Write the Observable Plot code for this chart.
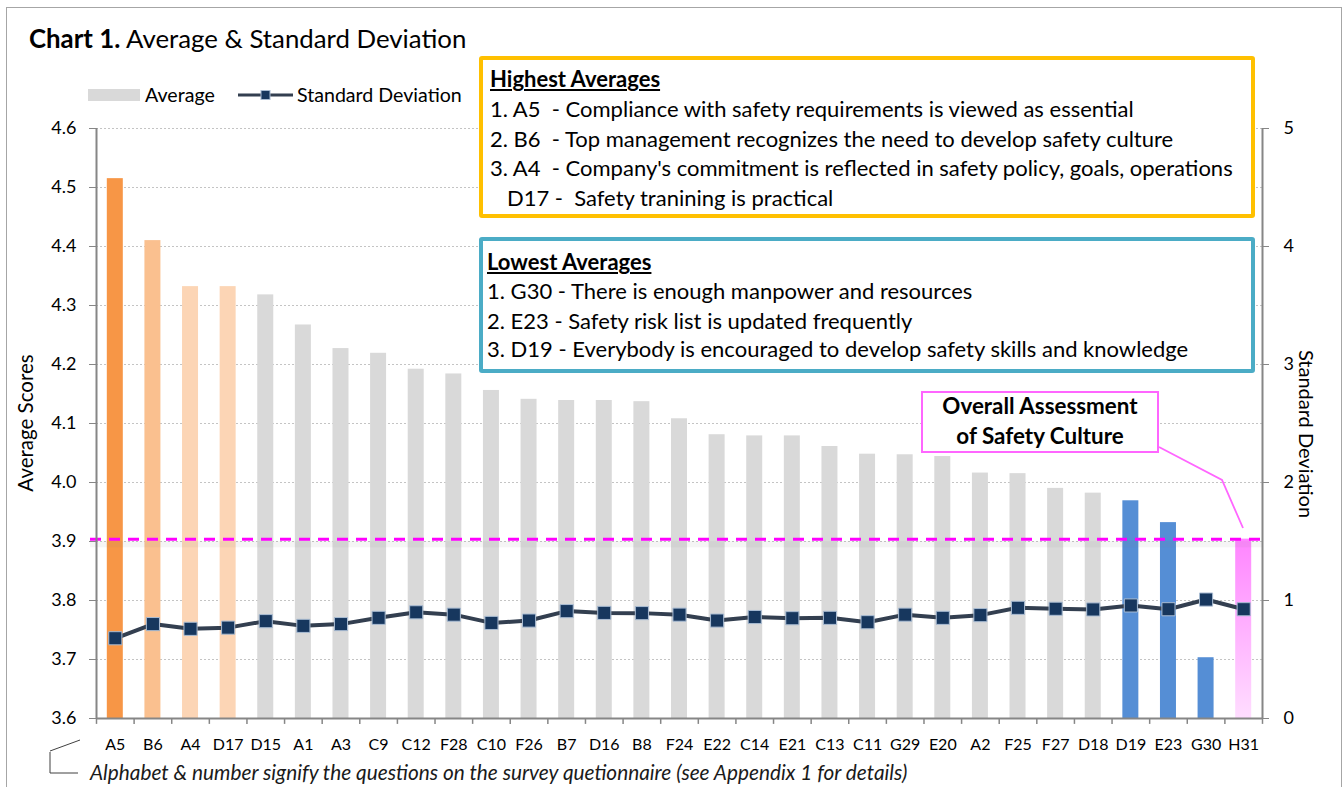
<!DOCTYPE html>
<html>
<head>
<meta charset="utf-8">
<script src="https://cdn.jsdelivr.net/npm/d3@7"></script>
<script src="https://cdn.jsdelivr.net/npm/@observablehq/plot@0.6"></script>
<style>
  html, body { margin: 0; padding: 0; background: #fff; }
  #wrap { position: relative; width: 1344px; height: 787px; overflow: hidden; font-family: Lato, "Open Sans", sans-serif; color: #000; }
  #wrap > svg { position: absolute; left: 0; top: 0; }
  .abs { position: absolute; line-height: 1; white-space: pre; }
  .box { position: absolute; box-sizing: border-box; background: #fff; }
</style>
</head>
<body>
<div id="wrap"></div>
<script>
// ---------------- data ----------------
const categories = ["A5","B6","A4","D17","D15","A1","A3","C9","C12","F28","C10","F26","B7","D16","B8","F24","E22","C14","E21","C13","C11","G29","E20","A2","F25","F27","D18","D19","E23","G30","H31"];
const averages = [4.515,4.410,4.332,4.332,4.318,4.267,4.227,4.219,4.192,4.184,4.156,4.141,4.139,4.139,4.137,4.108,4.081,4.079,4.079,4.061,4.048,4.047,4.044,4.016,4.015,3.990,3.982,3.969,3.932,3.703,3.904];
const stdDevs = [0.68,0.80,0.76,0.77,0.825,0.785,0.80,0.853,0.90,0.88,0.81,0.83,0.91,0.895,0.893,0.88,0.83,0.86,0.85,0.853,0.816,0.88,0.853,0.876,0.938,0.93,0.924,0.958,0.926,1.008,0.926];
const groups = ["rank1","rank2","rank3","rank3","other","other","other","other","other","other","other","other","other","other","other","other","other","other","other","other","other","other","other","other","other","other","other","lowest","lowest","lowest","overall"];
const avgTicks = [3.6,3.7,3.8,3.9,4.0,4.1,4.2,4.3,4.4,4.5,4.6];
const sdTicks = [0,1,2,3,4,5];
const groupNames = ["rank1","rank2","rank3","other","lowest","overall"];
const groupColors = ["#F79646","#FAC08F","#FCD5B5","#D9D9D9","#558ED5","url(#pinkGrad)"];

const highestTitle = "Highest Averages";
const highestLines = [
  "1. A5  - Compliance with safety requirements is viewed as essential",
  "2. B6  - Top management recognizes the need to develop safety culture",
  "3. A4  - Company's commitment is reflected in safety policy, goals, operations",
  "   D17 -  Safety tranining is practical"
];
const lowestTitle = "Lowest Averages";
const lowestLines = [
  "1. G30 - There is enough manpower and resources",
  "2. E23 - Safety risk list is updated frequently",
  "3. D19 - Everybody is encouraged to develop safety skills and knowledge"
];

// ---------------- layout ----------------
const W = 1344, H = 787;
const mL = 96, mR = 82, mT = 128, mB = 69;
const step = (W - mL - mR) / categories.length;
const barInset = (step - 16) / 2;
const sdToAvg = v => 3.6 + v / 5;           // right axis 0..5 shares the frame with left axis 3.6..4.6
const avgToSd = v => Math.round((v - 3.6) * 5);

const data = categories.map((c, i) => ({cat: c, avg: averages[i], sd: stdDevs[i], group: groups[i]}));
const overall = averages[averages.length - 1];

const defs = () => {
  const s = d3.create("svg:defs");
  const g = s.append("linearGradient").attr("id", "pinkGrad").attr("x1", 0).attr("y1", 0).attr("x2", 0).attr("y2", 1);
  g.append("stop").attr("offset", "0%").attr("stop-color", "#FF85FF");
  g.append("stop").attr("offset", "100%").attr("stop-color", "#FFDDFF");
  return s.node();
};

const axisGray = "#868686";

const chart = Plot.plot({
  width: W, height: H,
  marginLeft: mL, marginRight: mR, marginTop: mT, marginBottom: mB,
  style: {fontFamily: "Lato, sans-serif", background: "transparent", color: "#000"},
  x: {type: "band", domain: categories, padding: 0, round: false, label: null},
  y: {domain: [3.6, 4.6], label: null},
  color: {type: "ordinal", domain: groupNames, range: groupColors},
  marks: [
    defs,
    Plot.ruleY(avgTicks.slice(1), {stroke: "#c4c4c4", strokeDasharray: "2,2", strokeWidth: 1}),
    Plot.barY(data, {x: "cat", y1: 3.6, y2: "avg", fill: "group", insetLeft: barInset, insetRight: barInset}),
    Plot.ruleY([overall], {stroke: "#7f7f7f", strokeOpacity: 0.08, strokeWidth: 6, dy: 5, insetLeft: -6}),
    Plot.ruleY([overall], {stroke: "#FF00FF", strokeWidth: 3, strokeDasharray: "11,8", insetLeft: -6}),
    Plot.line(data, {x: "cat", y: d => sdToAvg(d.sd), stroke: "#333F50", strokeWidth: 4}),
    Plot.dot(data, {x: "cat", y: d => sdToAvg(d.sd), symbol: "square", r: 7.4, fill: "#17375E", stroke: "#A9BCD3", strokeWidth: 1}),
    // axis lines
    Plot.ruleY([3.6], {stroke: axisGray, strokeWidth: 2}),
    Plot.ruleX([categories[0]], {dx: -step / 2, stroke: axisGray, strokeWidth: 2}),
    Plot.ruleX([categories[categories.length - 1]], {dx: step / 2, stroke: axisGray, strokeWidth: 2}),
    // category boundary ticks
    Plot.ruleX(categories, {x: d => d, y1: 3.6, y2: 3.59, dx: -step / 2, stroke: axisGray, strokeWidth: 1.5}),
    Plot.ruleX([categories[categories.length - 1]], {y1: 3.6, y2: 3.59, dx: step / 2, stroke: axisGray, strokeWidth: 1.5}),
    Plot.axisX({tickSize: 0, tickPadding: 20, fontSize: 16, label: null, fill: "#000"}),
    Plot.axisY(avgTicks, {anchor: "left", tickSize: 7, tickPadding: 13, tickFormat: d => d.toFixed(1), fontSize: 18, label: null, stroke: axisGray, fill: "#000"}),
    Plot.axisY(sdTicks.map(sdToAvg), {anchor: "right", tickSize: 6, tickPadding: 15, tickFormat: d => String(avgToSd(d)), fontSize: 18, label: null, stroke: axisGray, fill: "#000"})
  ]
});

const wrap = document.getElementById("wrap");
wrap.appendChild(chart);

// ---------------- overlays (title, legend, annotations) ----------------
function addText(html, x, baseline, size, extra = "") {
  const d = document.createElement("div");
  d.className = "abs";
  d.style.cssText += `left:${x}px;top:${baseline - 0.887 * size}px;font-size:${size}px;${extra}`;
  d.innerHTML = html;
  wrap.appendChild(d);
  return d;
}
function addBox(x, y, w, h, css) {
  const d = document.createElement("div");
  d.className = "box";
  d.style.cssText += `left:${x}px;top:${y}px;width:${w}px;height:${h}px;${css}`;
  wrap.appendChild(d);
  return d;
}

// outer frame
addBox(6, 7, 1336, 820, "border:1.5px solid #A6A6A6;background:transparent;");

// title
addText("<b>Chart 1.</b> Average &amp; Standard Deviation", 29, 49, 25.8);

// legend
addBox(88, 89, 52, 12, "background:#D9D9D9;");
addText("Average", 145, 102, 19.6);
const lg = document.createElementNS("http://www.w3.org/2000/svg", "svg");
lg.setAttribute("width", 60); lg.setAttribute("height", 20);
lg.style.cssText = "position:absolute;left:236px;top:85px;";
lg.innerHTML = '<line x1="2" y1="10" x2="57" y2="10" stroke="#333F50" stroke-width="3"/><rect x="25" y="5.5" width="9" height="9" fill="#17375E" stroke="#A9BCD3" stroke-width="1"/>';
wrap.appendChild(lg);
addText("Standard Deviation", 297, 102, 19.6);

// axis titles
const yl = addText("Average Scores", 0, 0, 20.5);
yl.style.left = "25px"; yl.style.top = "423px"; yl.style.transform = "translate(-50%,-50%) rotate(-90deg)";
const yr = addText("Standard Deviation", 0, 0, 20);
yr.style.left = "1307px"; yr.style.top = "434px"; yr.style.transform = "translate(-50%,-50%) rotate(90deg)";

// highest averages box
addBox(479, 56, 776, 162, "border:4px solid #FFC000;border-radius:3px;");
addText(highestTitle, 490, 88, 22, "font-weight:bold;text-decoration:underline;");
const hb = [118, 148, 177, 207];
highestLines.forEach((t, i) => addText(t, 490, hb[i], 22));

// lowest averages box
addBox(479, 237, 776, 136, "border:4px solid #4BACC6;border-radius:3px;");
addText(lowestTitle, 487, 271, 22, "font-weight:bold;text-decoration:underline;");
const lb = [300, 330, 358];
lowestLines.forEach((t, i) => addText(t, 487, lb[i], 22));

// overall assessment callout
addBox(921, 391, 238, 62, "border:2.5px solid #FF66FF;");
addText("Overall Assessment", 921, 415, 22.4, "font-weight:bold;width:238px;text-align:center;");
addText("of Safety Culture", 921, 445, 22.4, "font-weight:bold;width:238px;text-align:center;");
const ov = document.createElementNS("http://www.w3.org/2000/svg", "svg");
ov.setAttribute("width", W); ov.setAttribute("height", H);
ov.style.cssText = "position:absolute;left:0;top:0;pointer-events:none;";
ov.innerHTML = '<polyline points="1159,447 1222,480 1243,528" fill="none" stroke="#FF66FF" stroke-width="1.8"/>' +
  '<polyline points="80,740 50,751" fill="none" stroke="#404040" stroke-width="1"/>' +
  '<polyline points="50,752 50,773 78,773" fill="none" stroke="#404040" stroke-width="1"/>';
wrap.appendChild(ov);

// caption
addText("Alphabet &amp; number signify the questions on the survey quetionnaire (see Appendix 1 for details)", 90, 780, 20.8, "font-style:italic;color:#1a1a1a;");
</script>
</body>
</html>
